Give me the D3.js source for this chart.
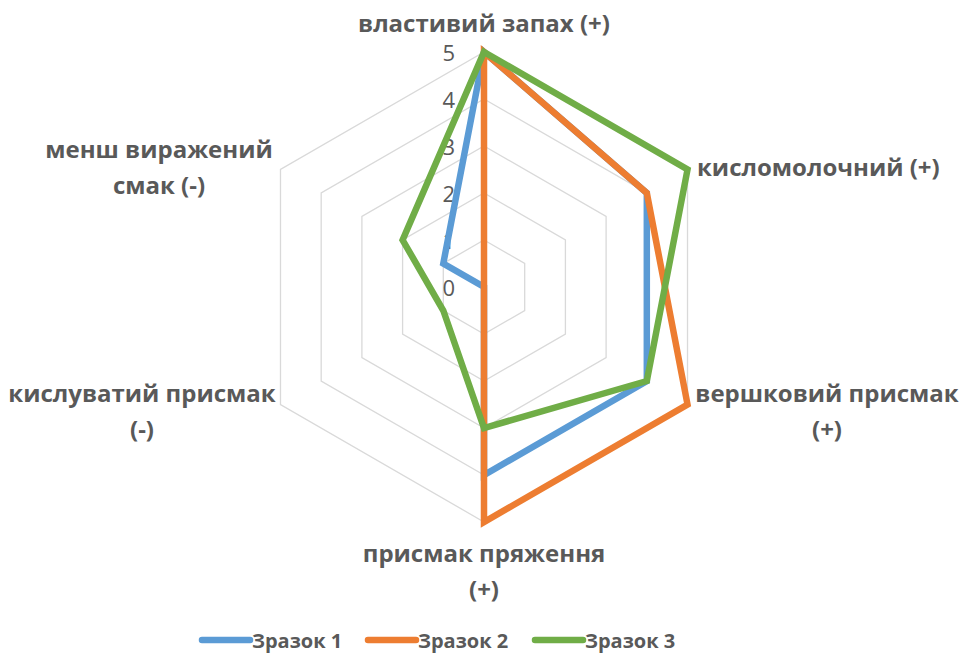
<!DOCTYPE html>
<html><head><meta charset="utf-8">
<script src="https://cdn.jsdelivr.net/npm/d3@7"></script>
<style>body{margin:0;background:#fff;}svg{display:block;}</style>
</head><body>
<svg id="c" width="964" height="659"></svg>
<script>
const categories = [
  ["властивий запах (+)"],
  ["кисломолочний (+)"],
  ["вершковий присмак", "(+)"],
  ["присмак пряження", "(+)"],
  ["кислуватий присмак", "(-)"],
  ["менш виражений", "смак (-)"]
];
const seriesNames = ["Зразок 1", "Зразок 2", "Зразок 3"];
const sample1 = [5, 4, 4, 4, 0, 1];
const sample2 = [5, 4, 5, 5, 0, 0];
const sample3 = [5, 5, 4, 3, 1, 2];
const tickValues = [0, 1, 2, 3, 4, 5];
const colors = ["#5B9BD5", "#ED7D31", "#70AD47"];

const svg = d3.select("#c");
const cx = 484, cy = 287, R = 235;
const r = d3.scaleLinear().domain([0, 5]).range([0, R]);
const n = categories.length;
const ang = i => -Math.PI / 2 + i * 2 * Math.PI / n;
const pt = (i, v) => [cx + r(v) * Math.cos(ang(i)), cy + r(v) * Math.sin(ang(i))];

const font = "'Open Sans', sans-serif";
const txt = "#595959";

// grid
const g = svg.append("g");
tickValues.filter(t => t > 0).forEach(t => {
  g.append("polygon")
    .attr("points", d3.range(n).map(i => pt(i, t).join(",")).join(" "))
    .attr("fill", "none").attr("stroke", "#D9D9D9").attr("stroke-width", 1.3);
});

// tick labels
tickValues.forEach(t => {
  svg.append("text").attr("x", cx - 29).attr("y", cy - r(t))
    .attr("text-anchor", "end").attr("dominant-baseline", "central")
    .attr("font-family", font).attr("font-size", 22).attr("fill", txt).text(t);
});

// series
const data = [sample1, sample2, sample3];
const line = d3.line().curve(d3.curveLinearClosed);
data.forEach((vals, s) => {
  svg.append("path")
    .attr("d", line(vals.map((v, i) => pt(i, v))))
    .attr("fill", "none").attr("stroke", colors[s]).attr("stroke-width", 6.5)
    .attr("stroke-linejoin", "miter").attr("stroke-miterlimit", 3);
});

// category labels
const labelPos = [
  {x: 484, y: 22, anchor: "middle"},
  {x: 697, y: 166, anchor: "start"},
  {x: 827, y: 392, anchor: "middle"},
  {x: 484, y: 552, anchor: "middle"},
  {x: 142, y: 392, anchor: "middle"},
  {x: 159, y: 148, anchor: "middle"}
];
categories.forEach((lines, i) => {
  const p = labelPos[i];
  lines.forEach((l, j) => {
    svg.append("text").attr("x", p.x).attr("y", p.y + j * 36)
      .attr("text-anchor", p.anchor).attr("dominant-baseline", "central")
      .attr("font-family", font).attr("font-weight", "bold").attr("font-size", 24)
      .attr("fill", txt).text(l);
  });
});

// legend
const legX = [202, 368, 535];
seriesNames.forEach((name, s) => {
  const lg = svg.append("g").attr("transform", `translate(${legX[s]},640)`);
  lg.append("line").attr("x1", 0).attr("x2", 48).attr("y1", 0).attr("y2", 0)
    .attr("stroke", colors[s]).attr("stroke-width", 6.5).attr("stroke-linecap", "round");
  lg.append("text").attr("x", 50).attr("y", 0).attr("dominant-baseline", "central")
    .attr("font-family", font).attr("font-weight", "bold").attr("font-size", 20)
    .attr("fill", txt).text(name);
});
</script>
</body></html>
